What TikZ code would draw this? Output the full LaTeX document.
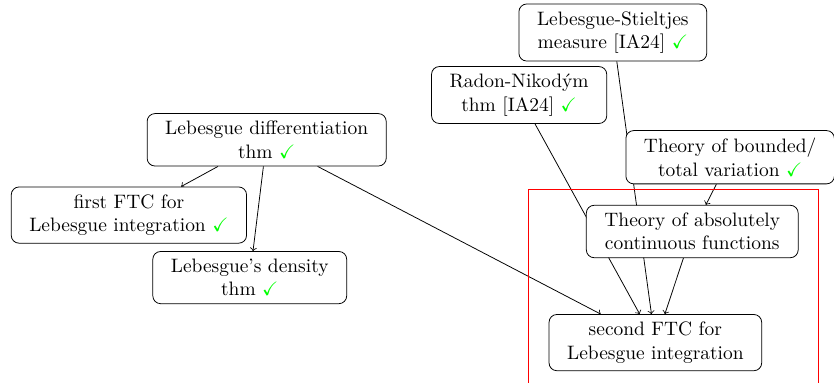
\documentclass[tikz,border=0pt]{standalone}
\usepackage{amsmath}
\usepackage{amssymb}
\usepackage{xcolor}
\usepackage{tikz}
\usetikzlibrary{shapes,arrows,positioning,backgrounds,calc}
\definecolor{donegreen}{RGB}{0,255,0}
\newcommand{\donemark}{\textcolor{donegreen}{\checkmark}}
\tikzset{
    block/.style={rectangle, draw, fill=white, align=center, rounded corners, inner xsep=9.3pt, inner ysep=3.9pt},
    line/.style={draw, ->},
    zone/.style={draw=red}
}

\begin{document}
\begin{tikzpicture}
    \useasboundingbox (-11.85,-0.73) rectangle (3.23,6.195);
    % Main result
    \node [block] (ftc2) {second FTC for\\Lebesgue integration};

    % Prerequisites
    \node [block] (abscont) at ([shift={(0.667,2.009)}]ftc2) {Theory of absolutely\\continuous functions};
    \node [block] (bv) at ([shift={(1.352,3.352)}]ftc2) {Theory of bounded/\\total variation \donemark};
    \node [block] (stieltjes) at ([shift={(-0.769,5.607)}]ftc2) {Lebesgue-Stieltjes\\measure [IA24] \donemark};
    \node [block] (radon) at ([shift={(-2.463,4.477)}]ftc2) {Radon-Nikod\'ym\\thm [IA24] \donemark};
    \node [block] (lebdiff) at ([shift={(-7.028,3.667)}]ftc2) {Lebesgue differentiation\\thm \donemark};
    \node [block] (ftc1) at ([shift={(-9.519,2.306)}]ftc2) {first FTC for\\Lebesgue integration \donemark};
    \node [block] (density) at ([shift={(-7.334,1.176)}]ftc2) {Lebesgue's density\\thm \donemark};

    % Dependencies
    \begin{scope}[on background layer]
        \path [line] (lebdiff) -- (ftc1);
        \path [line] (lebdiff) -- (density);
        \path [line] (lebdiff) -- (ftc2);
        \path [line] (radon) -- (ftc2);
        \path [line] (stieltjes) -- (ftc2);
        \path [line] (bv) -- (abscont);
        \path [line] (abscont) -- (ftc2);
        % Open part
        \draw [zone] ([shift={(-2.287,2.778)}]ftc2.center) rectangle ([shift={(2.945,-1.5)}]ftc2.center);
    \end{scope}
\end{tikzpicture}
\end{document}
